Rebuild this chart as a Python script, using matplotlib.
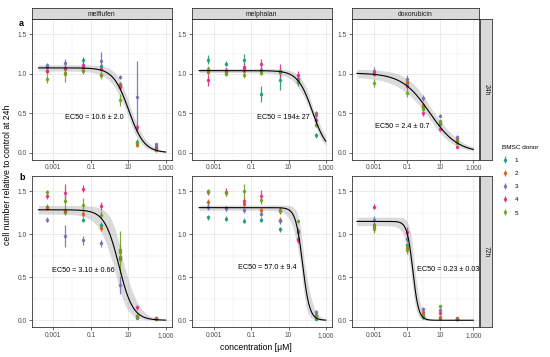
import matplotlib.pyplot as plt
import numpy as np

plt.rcParams['font.family'] = ['Liberation Sans', 'DejaVu Sans']

# --- data ---
donors = ['1', '2', '3', '4', '5']
donor_colors = ['#1B9E77', '#D95F02', '#7570B3', '#E7298A', '#66A61E']
drugs = ['melflufen', 'melphalan', 'doxorubicin']
times = ['24h', '72h']

conc_mel = [0.00045, 0.0043, 0.039, 0.35, 3.4, 31, 300]   # melflufen / melphalan [uM]
conc_dox = [0.001, 0.1, 1, 10, 100]                      # doxorubicin [uM]

# one row per donor (1..5)
mfl_24 = [[1.09, 1.06, 1.17, 1.10, 0.87, 0.14, 0.085],
          [1.03, 1.01, 1.05, 0.99, 0.85, 0.10, 0.05],
          [1.105, 1.14, 1.09, 1.16, 0.96, 0.71, 0.105],
          [1.04, 1.075, 1.11, 1.06, 0.83, 0.32, 0.055],
          [0.94, 1.00, 1.04, 0.98, 0.67, 0.125, 0.03]]
mfl_24_err = [[0.03, 0.03, 0.04, 0.03, 0.03, 0.03, 0.02],
              [0.03, 0.03, 0.03, 0.03, 0.03, 0.03, 0.02],
              [0.03, 0.05, 0.03, 0.11, 0.03, 0.45, 0.02],
              [0.03, 0.03, 0.03, 0.03, 0.03, 0.04, 0.02],
              [0.06, 0.10, 0.04, 0.04, 0.08, 0.04, 0.02]]

mph_24 = [[1.18, 1.13, 1.18, 0.74, 0.92, 0.89, 0.22],
          [1.02, 1.01, 1.04, 1.04, 1.03, 0.93, 0.50],
          [1.05, 1.05, 1.06, 1.05, 1.02, 0.94, 0.48],
          [0.92, 1.04, 1.08, 1.12, 1.04, 0.99, 0.41],
          [1.06, 1.00, 0.98, 1.01, 1.03, 0.91, 0.35]]
mph_24_err = [[0.06, 0.03, 0.07, 0.10, 0.12, 0.05, 0.03],
              [0.03, 0.03, 0.03, 0.03, 0.03, 0.03, 0.03],
              [0.03, 0.03, 0.03, 0.03, 0.03, 0.03, 0.03],
              [0.07, 0.03, 0.04, 0.07, 0.08, 0.04, 0.04],
              [0.04, 0.03, 0.03, 0.03, 0.03, 0.03, 0.03]]

dox_24 = [[1.02, 0.88, 0.58, 0.37, 0.15],
          [1.01, 0.90, 0.60, 0.39, 0.18],
          [1.04, 0.93, 0.69, 0.47, 0.20],
          [1.00, 0.84, 0.50, 0.30, 0.075],
          [0.885, 0.755, 0.55, 0.40, 0.125]]
dox_24_err = [[0.03, 0.03, 0.03, 0.03, 0.02],
              [0.03, 0.03, 0.03, 0.03, 0.02],
              [0.05, 0.05, 0.04, 0.02, 0.02],
              [0.03, 0.03, 0.03, 0.02, 0.02],
              [0.05, 0.05, 0.03, 0.03, 0.02]]

mfl_72 = [[1.32, 1.26, 1.17, 1.11, 0.73, 0.04, 0.01],
          [1.31, 1.27, 1.24, 1.07, 0.82, 0.05, 0.025],
          [1.17, 0.98, 0.93, 0.895, 0.41, 0.03, 0.02],
          [1.45, 1.48, 1.53, 1.33, 0.71, 0.15, 0.03],
          [1.49, 1.39, 1.34, 1.23, 0.79, 0.05, 0.01]]
mfl_72_err = [[0.03, 0.03, 0.03, 0.03, 0.03, 0.02, 0.01],
              [0.03, 0.03, 0.04, 0.03, 0.05, 0.02, 0.01],
              [0.03, 0.13, 0.05, 0.04, 0.10, 0.02, 0.01],
              [0.04, 0.10, 0.04, 0.05, 0.03, 0.03, 0.01],
              [0.03, 0.10, 0.08, 0.04, 0.25, 0.03, 0.01]]

mph_72 = [[1.20, 1.18, 1.16, 1.17, 1.06, 0.95, 0.01],
          [1.375, 1.30, 1.35, 1.28, 1.17, 1.04, 0.06],
          [1.32, 1.30, 1.28, 1.24, 1.15, 1.03, 0.10],
          [1.49, 1.49, 1.39, 1.45, 1.28, 0.93, 0.05],
          [1.50, 1.48, 1.50, 1.40, 1.27, 1.15, 0.05]]
mph_72_err = [[0.03, 0.03, 0.03, 0.03, 0.03, 0.03, 0.01],
              [0.03, 0.03, 0.03, 0.03, 0.03, 0.03, 0.02],
              [0.04, 0.03, 0.03, 0.03, 0.03, 0.03, 0.02],
              [0.03, 0.05, 0.04, 0.07, 0.04, 0.03, 0.02],
              [0.03, 0.04, 0.09, 0.05, 0.03, 0.02, 0.02]]

dox_72 = [[1.11, 0.87, 0.035, 0.03, 0.01],
          [1.09, 0.84, 0.10, 0.04, 0.02],
          [1.17, 0.95, 0.13, 0.12, 0.02],
          [1.32, 1.03, 0.07, 0.08, 0.03],
          [1.06, 0.82, 0.06, 0.16, 0.01]]
dox_72_err = [[0.03, 0.03, 0.02, 0.01, 0.01],
              [0.03, 0.03, 0.02, 0.01, 0.01],
              [0.04, 0.04, 0.02, 0.02, 0.01],
              [0.03, 0.05, 0.02, 0.02, 0.01],
              [0.05, 0.05, 0.02, 0.02, 0.01]]

# fitted log-logistic parameters: top, EC50, hill, and band spread (dtop, EC50 factor, dhill)
fit_top = [[1.075, 1.04, 1.01], [1.285, 1.31, 1.15]]
fit_ec50 = [[10.6, 194, 2.4], [3.10, 57.0, 0.23]]
fit_hill = [[1.05, 1.1, 0.52], [1.15, 2.3, 2.5]]
band_dtop = [[0.04, 0.025, 0.05], [0.05, 0.03, 0.05]]
band_fac = [[1.3, 1.2, 1.5], [1.8, 1.25, 1.3]]
band_dhill = [[0.1, 0.15, 0.05], [0.15, 0.6, 0.4]]
ec50_text = [['EC50 = 10.6 ± 2.0', 'EC50 = 194± 27', 'EC50 = 2.4 ± 0.7'],
             ['EC50 = 3.10 ± 0.66', 'EC50 = 57.0 ± 9.4', 'EC50 = 0.23 ± 0.03']]
curve_from = [10**-3.8, 10**-3.8, 1e-4]

values = [[mfl_24, mph_24, dox_24], [mfl_72, mph_72, dox_72]]
errors = [[mfl_24_err, mph_24_err, dox_24_err], [mfl_72_err, mph_72_err, dox_72_err]]
concs = [conc_mel, conc_mel, conc_dox]


def loglogistic(x, top, ec50, hill):
    return top / (1 + (x / ec50) ** hill)


# --- layout (pixels of a 550x357 figure) ---
W, H = 550, 357
fig = plt.figure(figsize=(5.5, 3.57), dpi=100)

col_left = [31.7, 191.7, 351.7]
col_width = [140, 140, 127.6]
row_top = [19, 176]
row_bottom = [159.5, 326.7]
xlims = [(10**-4.16, 10**3.32), (10**-4.2, 10**3.32), (10**-4.32, 10**3.36)]
ylims = [(-0.086, 1.694), (-0.075, 1.678)]
text_pos = [[(0.445, 0.302), (0.654, 0.300), (0.40, 0.238)],
            [(0.369, 0.376), (0.54, 0.394), (0.757, 0.381)]]

edge = '#333333'
grid = '#EBEBEB'
handles = None

for r in range(2):
    for c in range(3):
        ax = fig.add_axes([col_left[c] / W, 1 - row_bottom[r] / H,
                           col_width[c] / W, (row_bottom[r] - row_top[r]) / H])
        ax.set_xscale('log')
        ax.set_xlim(*xlims[c])
        ax.set_ylim(*ylims[r])

        # grid like theme_bw
        ax.set_xticks([1e-3, 1e-1, 1e1, 1e3])
        ax.set_xticklabels(['0.001', '0.1', '10', '1,000'])
        ax.set_xticks([1e-4, 1e-2, 1, 1e2], minor=True)
        ax.set_xticklabels([], minor=True)
        ax.set_yticks([0, 0.5, 1.0, 1.5])
        ax.set_yticklabels(['0.0', '0.5', '1.0', '1.5'])
        ax.set_yticks([0.25, 0.75, 1.25], minor=True)
        ax.grid(True, which='major', color=grid, lw=0.7, zorder=0)
        ax.grid(True, which='minor', color=grid, lw=0.35, zorder=0)
        ax.tick_params(which='major', length=2, width=0.5, color=edge,
                       labelsize=4.8, labelcolor='#4D4D4D', pad=1.5)
        ax.tick_params(which='minor', length=0)
        for s in ax.spines.values():
            s.set_color(edge)
            s.set_linewidth(0.6)
        ax.set_axisbelow(True)

        # fitted curve with band
        xs = np.logspace(np.log10(curve_from[c]), 3, 300)
        top, ec, h = fit_top[r][c], fit_ec50[r][c], fit_hill[r][c]
        dt, f, dh = band_dtop[r][c], band_fac[r][c], band_dhill[r][c]
        variants = []
        for tt in (top - dt, top + dt):
            for ee in (ec / f, ec * f):
                for hh in (h - dh, h + dh):
                    variants.append(loglogistic(xs, tt, ee, hh))
        variants = np.array(variants)
        ax.fill_between(xs, variants.min(axis=0), variants.max(axis=0),
                        color='#999999', alpha=0.35, lw=0, zorder=1)

        # donor points with error bars
        hs = []
        for d in range(5):
            eb = ax.errorbar(concs[c], values[r][c][d], yerr=errors[r][c][d], fmt='o',
                             color=donor_colors[d], ms=2.5, mew=0, elinewidth=0.9,
                             ecolor=donor_colors[d] + '88', alpha=0.9, zorder=2 + d)
            hs.append(eb)
        if handles is None:
            handles = hs

        ax.plot(xs, loglogistic(xs, top, ec, h), color='black', lw=0.8, zorder=10)

        ax.text(text_pos[r][c][0], text_pos[r][c][1], ec50_text[r][c],
                transform=ax.transAxes, ha='center', va='center', fontsize=5.2, zorder=11)

# top strips
for c in range(3):
    sax = fig.add_axes([col_left[c] / W, 1 - 19 / H, col_width[c] / W, 11 / H])
    sax.set_facecolor('#D9D9D9')
    sax.set_xticks([])
    sax.set_yticks([])
    for s in sax.spines.values():
        s.set_color(edge)
        s.set_linewidth(0.6)
    sax.text(0.5, 0.45, drugs[c], ha='center', va='center', fontsize=4.9, color='#1A1A1A')

# right strips
for r in range(2):
    sax = fig.add_axes([480 / W, 1 - row_bottom[r] / H, 12 / W,
                        (row_bottom[r] - row_top[r]) / H])
    sax.set_facecolor('#D9D9D9')
    sax.set_xticks([])
    sax.set_yticks([])
    for s in sax.spines.values():
        s.set_color(edge)
        s.set_linewidth(0.6)
    sax.text(0.5, 0.5, times[r], ha='center', va='center', rotation=-90,
             fontsize=4.9, color='#1A1A1A')

# panel tags and axis titles
fig.text(21.7 / W, 1 - 23 / H, 'a', fontsize=6.5, fontweight='bold', ha='center', va='center')
fig.text(21.7 / W, 1 - 177 / H, 'b', fontsize=6.5, fontweight='bold', ha='center', va='center')
fig.text(8 / W, 1 - 175 / H, 'cell number relative to control at 24h', rotation=90,
         fontsize=6.2, ha='center', va='center')
fig.text(256 / W, 1 - 347 / H, 'concentration [μM]', fontsize=6.2, ha='center', va='center')

fig.legend(handles, donors, title='BMSC donor', loc='upper left',
           bbox_to_anchor=(496 / W, 1 - 139 / H), frameon=False, fontsize=4.5,
           title_fontsize=4.6, labelspacing=1.25, handlelength=1.2, handletextpad=0.9,
           alignment='left')

fig.savefig('out.png', dpi=100)
